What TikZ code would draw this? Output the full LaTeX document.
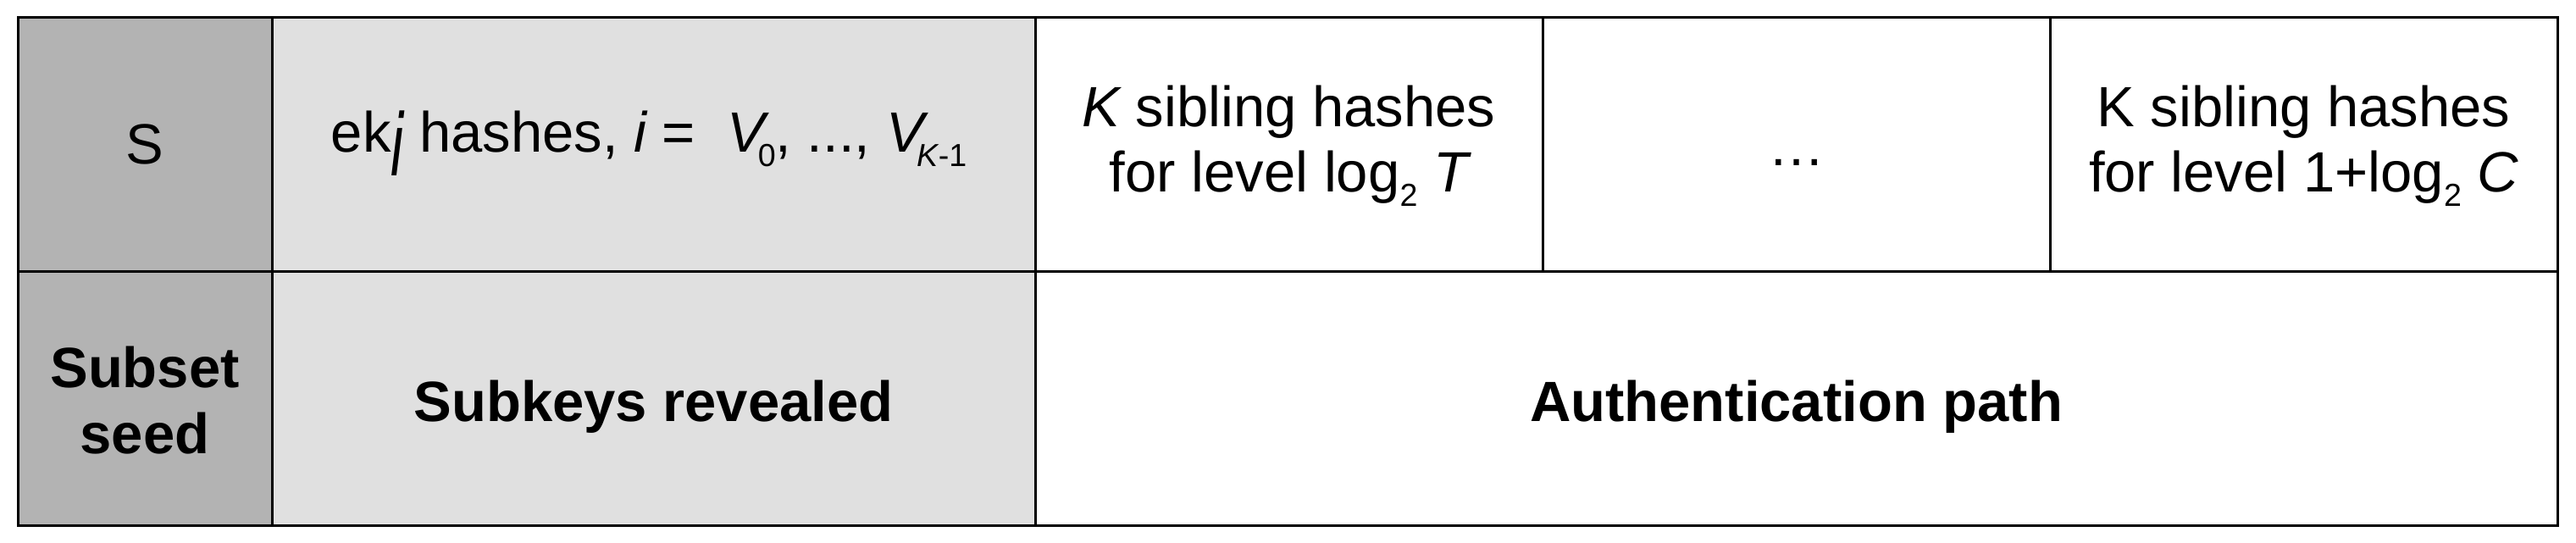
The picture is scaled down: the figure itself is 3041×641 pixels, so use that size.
\documentclass[tikz,border=0pt]{standalone}
\usepackage{fontspec}
\setmainfont{Liberation Sans}
\usetikzlibrary{fit}
\definecolor{dk}{RGB}{179,179,179}
\definecolor{lt}{RGB}{224,224,224}
\newcommand{\lowsub}[1]{\raisebox{-4.25pt}{\fontsize{9.4pt}{11pt}\selectfont #1}}
\begin{document}
\begin{tikzpicture}[x=0.25pt,y=-0.25pt,
  cell/.style={draw=black, line width=0.75pt, inner sep=0pt, outer sep=0pt},
  lbl/.style={anchor=base, inner sep=0pt, font=\fontsize{16.75pt}{19.25pt}\selectfont},
  blbl/.style={lbl, font=\fontsize{16.75pt}{19.25pt}\selectfont\bfseries}]
\useasboundingbox (0,0) rectangle (3041,641);
% cells
\node[cell, fill=dk, fit={(21,20.5) (321,320.5)}] (sA) {};
\node[cell, fill=dk, fit={(21,320.5) (321,620.5)}] (sB) {};
\node[cell, fill=lt, fit={(321,20.5) (1222,320.5)}] (kA) {};
\node[cell, fill=lt, fit={(321,320.5) (1222,620.5)}] (kB) {};
\node[cell, fill=white, fit={(1222,20.5) (1821,320.5)}] (hA) {};
\node[cell, fill=white, fit={(1821,20.5) (2420,320.5)}] (hB) {};
\node[cell, fill=white, fit={(2420,20.5) (3019,320.5)}] (hC) {};
\node[cell, fill=white, fit={(1222,320.5) (3019,620.5)}] (ap) {};
% labels
\node[lbl] (tS) at (171,194) {S};
\node[lbl] (tek) at (766,180) {ek\raisebox{-7pt}{\scalebox{1}[1.58]{\itshape i}} hashes, {\itshape i} =\ \ {\itshape V}\kern-2pt\lowsub{0}, ..., {\itshape V}\kern-2pt\lowsub{{\itshape K}-1}};
\node[lbl] (tha1) at (1521.5,150) {{\itshape K} sibling hashes};
\node[lbl] (tha2) at (1521.5,227) {for level log\lowsub{2} {\itshape T}};
\node[lbl] (tdots) at (2120.5,195) {…};
\node[lbl] (thc1) at (2719.5,150) {K sibling hashes};
\node[lbl] (thc2) at (2719.5,227) {for level 1+log\lowsub{2} {\itshape C}};
\node[blbl] (tss1) at (171,457) {Subset};
\node[blbl] (tss2) at (171,535) {seed};
\node[blbl] (tsk) at (771.5,497) {Subkeys revealed};
\node[blbl] (tap) at (2120.5,497) {Authentication path};
\end{tikzpicture}
\end{document}
